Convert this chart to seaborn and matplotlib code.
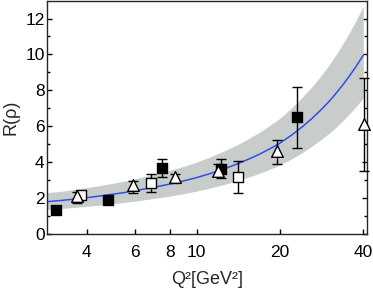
import numpy as np
import pandas as pd
import matplotlib
matplotlib.use("Agg")
import matplotlib.pyplot as plt
import seaborn as sns

# curve + uncertainty band
q_curve = [2.89, 3.25, 3.5, 4, 4.5, 5, 5.5, 6, 7, 8, 9, 10, 11, 12, 13, 14, 15, 16,
           17, 18, 19, 20, 22, 24, 26, 28, 30, 32, 34, 36, 38, 40]
r_curve = [1.8, 1.87, 1.92, 2.02, 2.12, 2.22, 2.31, 2.41, 2.6, 2.78, 2.96, 3.14, 3.33, 3.52,
           3.71, 3.9, 4.09, 4.28, 4.47, 4.67, 4.86, 5.06, 5.5, 5.95, 6.41, 6.88, 7.36, 7.86,
           8.37, 8.89, 9.42, 9.96]
r_upper = [2.30, 2.38, 2.45, 2.58, 2.70, 2.83, 2.95, 3.07, 3.32, 3.55, 3.77, 4.0, 4.25, 4.49,
           4.73, 4.97, 5.21, 5.46, 5.70, 5.95, 6.20, 6.45, 7.01, 7.59, 8.17, 8.77, 9.38, 10.02,
           10.67, 11.33, 12.01, 12.7]
r_lower = [1.37, 1.42, 1.46, 1.54, 1.61, 1.69, 1.76, 1.83, 1.98, 2.11, 2.25, 2.39, 2.53, 2.68,
           2.82, 2.96, 3.11, 3.25, 3.40, 3.55, 3.69, 3.85, 4.18, 4.52, 4.87, 5.23, 5.59, 5.97,
           6.36, 6.76, 7.16, 7.57]

# filled squares
fs_q = [3.09, 4.79, 7.49, 12.2, 23.1]
fs_r = [1.35, 1.9, 3.65, 3.6, 6.5]
fs_lo = [1.35, 1.9, 3.15, 3.1, 4.8]
fs_hi = [1.35, 1.9, 4.15, 4.15, 8.2]

# open squares
os_q = [3.81, 6.82, 14.06]
os_r = [2.15, 2.85, 3.16]
os_lo = [2.0, 2.35, 2.27]
os_hi = [2.3, 3.35, 4.04]

# open triangles
tr_q = [3.70, 5.90, 8.35, 11.97, 19.5, 40.3]
tr_r = [2.1, 2.72, 3.2, 3.5, 4.6, 6.12]
tr_lo = [1.75, 2.3, 2.83, 3.3, 3.89, 3.48]
tr_hi = [2.35, 2.95, 3.35, 3.9, 5.25, 8.69]

sns.set_style("ticks")
plt.rcParams['font.family'] = ['Liberation Sans', 'DejaVu Sans']

fig, ax = plt.subplots(figsize=(3.73, 2.91), dpi=100)
fig.subplots_adjust(left=0.1273, right=0.9826, top=0.998, bottom=0.196)

ax.fill_between(q_curve, r_lower, r_upper, color='#c8cdcb', linewidth=0, zorder=1)
sns.lineplot(x=q_curve, y=r_curve, ax=ax, color='#2f4fe8', linewidth=1.1, zorder=2)

def points(q, r, lo, hi, marker, face, size):
    yerr = [np.array(r) - np.array(lo), np.array(hi) - np.array(r)]
    ax.errorbar(q, r, yerr=yerr, fmt='none', ecolor='black', elinewidth=1,
                capsize=3.5, capthick=1, zorder=3, clip_on=False)
    df = pd.DataFrame({'q': q, 'r': r})
    sns.scatterplot(data=df, x='q', y='r', ax=ax, marker=marker, color=face,
                    edgecolor='black', linewidth=1, s=size, zorder=4, clip_on=False)

points(fs_q, fs_r, fs_lo, fs_hi, 's', 'black', 45)
points(os_q, os_r, os_lo, os_hi, 's', 'white', 50)
points(tr_q, tr_r, tr_lo, tr_hi, '^', 'white', 70)

ax.set_xscale('log')
ax.set_xlim(2.89, 41.1)
ax.set_ylim(0, 13)
ax.set_xticks([4, 6, 8, 10, 20, 40])
ax.set_xticklabels(['4', '6', '8', '10', '20', '40'])
ax.xaxis.set_minor_locator(matplotlib.ticker.NullLocator())
ax.set_yticks([0, 2, 4, 6, 8, 10, 12])
ax.set_yticks([1, 3, 5, 7, 9, 11], minor=True)

for s in ax.spines.values():
    s.set_linewidth(1.0)
    s.set_visible(True)
ax.tick_params(which='both', direction='in', right=True, width=1, colors='black')
ax.tick_params(which='major', length=3.5, labelsize=12.5)
ax.tick_params(which='minor', length=2)
ax.tick_params(axis='x', pad=8)
ax.tick_params(axis='y', pad=2)

ax.set_xlabel('Q²[GeV²]', fontsize=13, labelpad=8)
ax.set_ylabel('R(ρ)', fontsize=13, labelpad=4)

fig.savefig('out.png', dpi=100)
